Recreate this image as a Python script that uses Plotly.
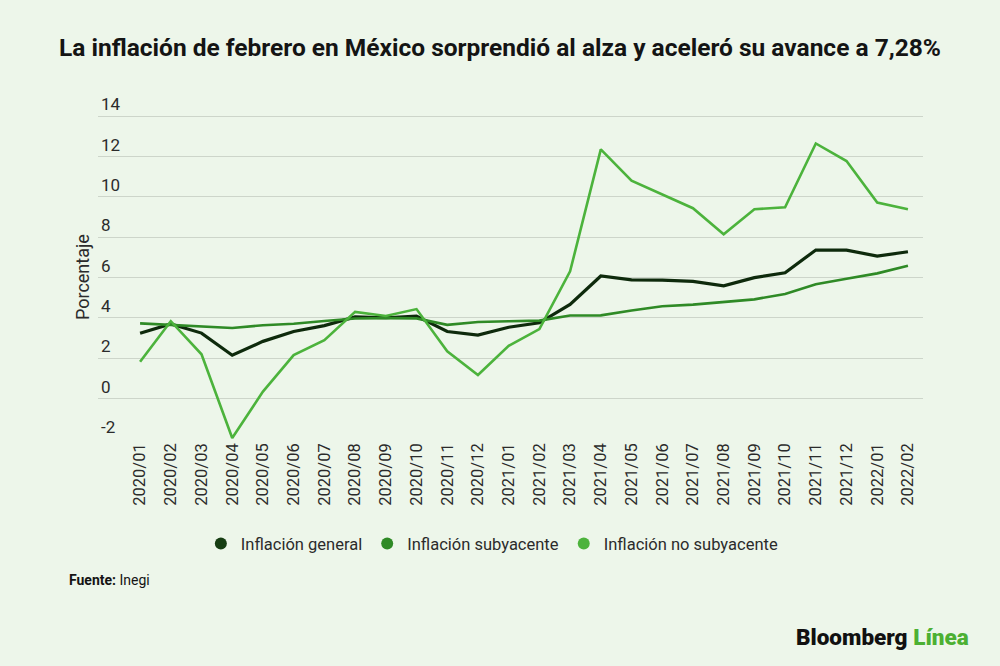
import plotly.graph_objects as go

meses = ["2020/01", "2020/02", "2020/03", "2020/04", "2020/05", "2020/06",
         "2020/07", "2020/08", "2020/09", "2020/10", "2020/11", "2020/12",
         "2021/01", "2021/02", "2021/03", "2021/04", "2021/05", "2021/06",
         "2021/07", "2021/08", "2021/09", "2021/10", "2021/11", "2021/12",
         "2022/01", "2022/02"]

general = [3.24, 3.70, 3.25, 2.15, 2.84, 3.33, 3.62, 4.05, 4.01, 4.09, 3.33, 3.15,
           3.54, 3.76, 4.67, 6.08, 5.89, 5.88, 5.81, 5.59, 6.00, 6.24, 7.37, 7.36,
           7.07, 7.28]

subyacente = [3.73, 3.66, 3.60, 3.50, 3.64, 3.71, 3.85, 3.97, 3.99, 3.98, 3.66, 3.80,
              3.84, 3.87, 4.12, 4.13, 4.37, 4.58, 4.66, 4.78, 4.92, 5.19, 5.67, 5.94,
              6.21, 6.59]

no_subyacente = [1.83, 3.84, 2.20, -1.95, 0.35, 2.16, 2.90, 4.30, 4.10, 4.44, 2.35, 1.17,
                 2.62, 3.45, 6.31, 12.36, 10.80, 10.13, 9.44, 8.15, 9.39, 9.49, 12.65, 11.78,
                 9.72, 9.39]

y_ticks = [-2, 0, 2, 4, 6, 8, 10, 12, 14]
y_labels = ["-2", "0", "2", "4", "6", "8", "10", "12", "14"]

series = [
    ("Inflación general", general, "#0e2a0c", "#163d12", 3.2),
    ("Inflación subyacente", subyacente, "#2f8a26", "#2f8a26", 2.6),
    ("Inflación no subyacente", no_subyacente, "#4cb33c", "#4cb33c", 2.6),
]

bg = "#edf6ea"
txt = "#2b2b2b"

fig = go.Figure()

# the lines themselves, kept out of the legend
for name, vals, line_col, _, w in series:
    fig.add_trace(go.Scatter(x=meses, y=vals, mode="lines", name=name,
                             line=dict(color=line_col, width=w),
                             showlegend=False))

# round legend markers
for name, _, _, mark_col, _ in series:
    fig.add_trace(go.Scatter(x=[None], y=[None], mode="markers", name=name,
                             marker=dict(color=mark_col, size=14, symbol="circle")))

fig.update_layout(
    width=1000, height=666,
    paper_bgcolor=bg, plot_bgcolor=bg,
    margin=dict(l=98, r=77, t=90, b=227),
    font=dict(family="Roboto", color=txt),
    title=dict(
        text="<b>La inflación de febrero en México sorprendió al alza y aceleró su avance a 7,28%</b>",
        x=0.5, xanchor="center", xref="container",
        y=1 - 47 / 666, yanchor="middle", yref="container",
        font=dict(family="Roboto", size=24.5, color="#141414"),
    ),
    showlegend=True,
    legend=dict(orientation="h", x=0.478, xanchor="center", y=-0.30, yanchor="middle",
                font=dict(family="Roboto", size=16.5, color=txt),
                itemsizing="constant", itemwidth=30, tracegroupgap=0,
                bgcolor="rgba(0,0,0,0)"),
    xaxis=dict(type="category", range=[-1.37, 25.49], showgrid=False,
               tickangle=-90, tickfont=dict(family="Roboto", size=16.5, color=txt),
               ticks="", showline=False, zeroline=False),
    yaxis=dict(range=[-2, 15.3], tickvals=y_ticks, ticktext=y_labels,
               ticklabelposition="inside top", showgrid=True,
               gridcolor="#cdd5ca", gridwidth=1, zeroline=False, showline=False,
               tickfont=dict(family="Roboto", size=17, color=txt)),
    annotations=[
        dict(text="Porcentaje", textangle=-90, xref="paper", yref="paper",
             x=-0.019, y=0.465, xanchor="center", yanchor="middle", showarrow=False,
             font=dict(family="Roboto", size=18, color=txt)),
        dict(text="<b>Fuente:</b> Inegi", xref="paper", yref="paper",
             x=-0.038, y=-0.404, xanchor="left", yanchor="middle", showarrow=False,
             font=dict(family="Roboto", size=14, color="#141414")),
        dict(text="Bloomberg <span style='color:#4cb033'>Línea</span>",
             xref="paper", yref="paper", x=1.058, y=-0.567,
             xanchor="right", yanchor="middle", showarrow=False,
             font=dict(family="Roboto", size=22.5, color="#111111", weight=900)),
    ],
)

fig.write_html("out.html", config={"displayModeBar": False},
               post_script="document.body.style.margin='0';")
